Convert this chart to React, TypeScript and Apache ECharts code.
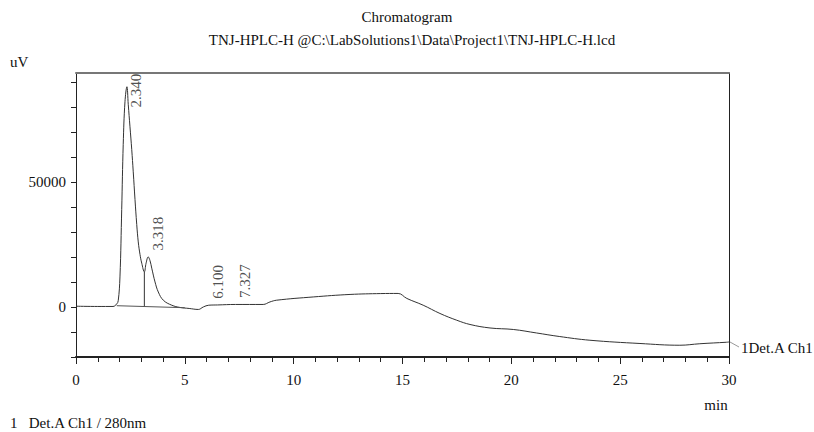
import React, { useEffect, useRef } from "react";
import * as echarts from "echarts";

const traceTimes = [
  0, 1.0, 1.7, 1.87, 1.94, 2.02, 2.1, 2.17, 2.25, 2.34, 2.4, 2.48, 2.56, 2.63, 2.71, 2.79, 2.86, 2.94, 3.02, 3.14, 3.22, 3.318,
  3.4, 3.48, 3.63, 3.78, 4.01, 4.4, 4.78, 5.2, 5.62, 5.85, 6.1, 6.5, 7.327, 8.6, 8.91, 9.22, 10.9, 12.59,
  14.0, 14.8, 15.2, 15.95, 16.72, 17.49, 18.1, 19.02, 20.09, 21.16, 22.2, 23.61, 25.91, 27.74, 28.66, 29.89, 30,
];
const traceValues = [
  300, 200, 200, 1200, 2500, 12000, 39000, 65000, 82000, 88000, 81000, 72000, 63000, 54000, 43000, 33000, 26000, 21000, 17500, 14000, 17500, 20000,
  18500, 15500, 10000, 6000, 2700, 700, -200, -600, -1000, 0, 700, 800, 1000, 1000, 2000, 2700, 4000, 5000,
  5350, 5400, 3400, 700, -2600, -5300, -7000, -8400, -9000, -10400, -11800, -13300, -14600, -15300, -14700, -14100, -14000,
];

const peakTimes = [2.34, 3.318, 6.1, 7.327];
const peakHeights = [88000, 20000, 700, 1000];
const peakLabels = ["2.340", "3.318", "6.100", "7.327"];

const valleyDrop = [[3.14, 14000], [3.14, 0]];
const integrationBaseline = [[1.87, 500], [5.0, -300]];

const xTickLabels = [0, 5, 10, 15, 20, 25, 30];
const yTickValues = [-20000, -10000, 0, 10000, 20000, 30000, 40000, 50000, 60000, 70000, 80000, 90000];
const yLabelValues = [0, 50000];

const Y_MIN = -20000;
const Y_MAX = 93500;

const FONT = "'Liberation Serif', 'Times New Roman', serif";

export default function App() {
  const ref = useRef<HTMLDivElement>(null);

  useEffect(() => {
    if (!ref.current) return;
    const chart = echarts.init(ref.current, null, { renderer: "svg" });

    const trace = traceTimes.map((t, i) => [t, traceValues[i]]);
    const labelPts = peakTimes.map((t, i) => ({
      value: [t, Math.min(peakHeights[i] + 2400, Y_MAX - 14000)],
      name: peakLabels[i],
    }));

    chart.setOption({
      animation: false,
      backgroundColor: "#fff",
      textStyle: { fontFamily: FONT },
      grid: { left: 76, right: 85, top: 73, bottom: 75, containLabel: false },
      xAxis: [
        {
          type: "value",
          min: 0,
          max: 30,
          interval: 5,
          axisLine: { show: true, onZero: false, lineStyle: { color: "#222", width: 2 } },
          axisTick: { show: true, length: 7, lineStyle: { color: "#222", width: 1 } },
          minorTick: { show: true, splitNumber: 5, length: 5, lineStyle: { color: "#222", width: 1 } },
          splitLine: { show: false },
          axisLabel: {
            show: true,
            margin: 15,
            color: "#111",
            fontSize: 15,
            fontFamily: FONT,
            customValues: xTickLabels,
            formatter: (v: number) => String(v),
          },
        },
        {
          type: "value",
          position: "top",
          min: 0,
          max: 30,
          axisLine: { show: true, onZero: false, lineStyle: { color: "#777", width: 2 } },
          axisTick: { show: false },
          axisLabel: { show: false },
          splitLine: { show: false },
        },
      ],
      yAxis: [
        {
          type: "value",
          min: Y_MIN,
          max: Y_MAX,
          axisLine: { show: true, onZero: false, lineStyle: { color: "#222", width: 1 } },
          axisTick: { show: true, length: 5, customValues: yTickValues, lineStyle: { color: "#222" } },
          splitLine: { show: false },
          axisLabel: {
            show: true,
            margin: 10,
            color: "#111",
            fontSize: 15,
            fontFamily: FONT,
            customValues: yLabelValues,
            formatter: (v: number) => String(v),
          },
        },
        {
          type: "value",
          position: "right",
          min: Y_MIN,
          max: Y_MAX,
          axisLine: { show: true, onZero: false, lineStyle: { color: "#222", width: 1 } },
          axisTick: { show: false },
          axisLabel: { show: false },
          splitLine: { show: false },
        },
      ],
      series: [
        {
          type: "line",
          data: trace,
          showSymbol: false,
          symbol: "none",
          smooth: 0.4,
          lineStyle: { color: "#333", width: 1 },
          z: 3,
        },
        {
          type: "line",
          data: valleyDrop,
          symbol: "none",
          lineStyle: { color: "#333", width: 1 },
        },
        {
          type: "line",
          data: integrationBaseline,
          symbol: "none",
          lineStyle: { color: "#555", width: 1 },
        },
        {
          type: "scatter",
          data: labelPts,
          symbolSize: 1,
          itemStyle: { color: "rgba(0,0,0,0)" },
          label: {
            show: true,
            formatter: (p: any) => p.name,
            position: [10, 0],
            rotate: 90,
            align: "left",
            verticalAlign: "middle",
            color: "#222",
            fontSize: 15,
            fontFamily: FONT,
          },
          z: 5,
        },
      ],
      graphic: [
        {
          type: "text",
          x: 407,
          y: 17,
          style: {
            text: "Chromatogram",
            font: `15px ${FONT}`,
            fill: "#111",
            textAlign: "center",
            textVerticalAlign: "middle",
          },
        },
        {
          type: "text",
          x: 412,
          y: 40,
          style: {
            text: "TNJ-HPLC-H @C:\\LabSolutions1\\Data\\Project1\\TNJ-HPLC-H.lcd",
            font: `15px ${FONT}`,
            fill: "#111",
            textAlign: "center",
            textVerticalAlign: "middle",
          },
        },
        {
          type: "text",
          x: 10,
          y: 62,
          style: { text: "uV", font: `15px ${FONT}`, fill: "#111", textVerticalAlign: "middle" },
        },
        {
          type: "text",
          x: 716,
          y: 405,
          style: { text: "min", font: `15px ${FONT}`, fill: "#111", textAlign: "center", textVerticalAlign: "middle" },
        },
        {
          type: "text",
          x: 10,
          y: 423,
          style: { text: "1   Det.A Ch1 / 280nm", font: `15px ${FONT}`, fill: "#111", textVerticalAlign: "middle" },
        },
        {
          type: "line",
          shape: { x1: 730, y1: 342, x2: 739, y2: 347 },
          style: { stroke: "#999", lineWidth: 1 },
        },
        {
          type: "text",
          x: 741,
          y: 348,
          style: { text: "1Det.A Ch1", font: `15px ${FONT}`, fill: "#111", textVerticalAlign: "middle" },
        },
      ],
    });

    return () => chart.dispose();
  }, []);

  return (
    <div
      ref={ref}
      style={{ position: "fixed", left: 0, top: 0, width: 814, height: 432, background: "#fff" }}
    />
  );
}
